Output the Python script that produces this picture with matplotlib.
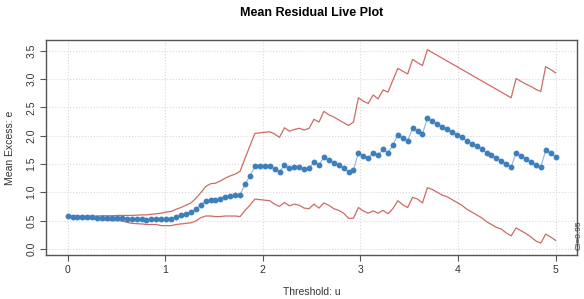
import matplotlib
matplotlib.use("Agg")
import matplotlib.pyplot as plt
import numpy as np

plt.rcParams["font.family"] = ["Liberation Sans", "DejaVu Sans"]

# thresholds: 100 values from 0 to 5
threshold = np.linspace(0, 5, 100)

mean_excess = [
    0.575, 0.565, 0.56, 0.555, 0.555, 0.555, 0.55, 0.55, 0.545, 0.54,
    0.545, 0.54, 0.53, 0.52, 0.52, 0.52, 0.515, 0.52, 0.525, 0.52,
    0.53, 0.535, 0.565, 0.595, 0.62, 0.65, 0.70, 0.78, 0.84, 0.87,
    0.86, 0.88, 0.91, 0.94, 0.95, 0.96, 1.14, 1.29, 1.46, 1.46,
    1.46, 1.46, 1.41, 1.36, 1.48, 1.42, 1.45, 1.45, 1.41, 1.42,
    1.54, 1.48, 1.62, 1.57, 1.52, 1.48, 1.43, 1.36, 1.39, 1.70,
    1.64, 1.61, 1.70, 1.65, 1.76, 1.70, 1.83, 2.02, 1.96, 1.91,
    2.13, 2.09, 2.03, 2.31, 2.26, 2.21, 2.16, 2.12, 2.07, 2.02,
    1.97, 1.91, 1.86, 1.81, 1.76, 1.70, 1.65, 1.60, 1.56, 1.50,
    1.45, 1.69, 1.64, 1.59, 1.54, 1.48, 1.44, 1.74, 1.69, 1.63,
]

upper_ci = [
    0.59, 0.585, 0.58, 0.58, 0.58, 0.58, 0.58, 0.585, 0.585, 0.585,
    0.59, 0.59, 0.59, 0.59, 0.595, 0.60, 0.60, 0.61, 0.62, 0.63,
    0.65, 0.66, 0.70, 0.73, 0.77, 0.81, 0.89, 0.99, 1.10, 1.15,
    1.16, 1.20, 1.25, 1.29, 1.32, 1.37, 1.60, 1.82, 2.04, 2.05,
    2.06, 2.07, 2.03, 1.97, 2.14, 2.08, 2.11, 2.13, 2.10, 2.13,
    2.29, 2.24, 2.43, 2.37, 2.33, 2.28, 2.23, 2.18, 2.24, 2.67,
    2.61, 2.57, 2.72, 2.65, 2.81, 2.77, 2.98, 3.19, 3.14, 3.09,
    3.35, 3.29, 3.24, 3.52, 3.47, 3.42, 3.37, 3.32, 3.27, 3.22,
    3.17, 3.12, 3.07, 3.02, 2.97, 2.92, 2.87, 2.82, 2.77, 2.72,
    2.67, 3.01, 2.96, 2.91, 2.87, 2.82, 2.78, 3.22, 3.17, 3.11,
]

lower_ci = [
    0.56, 0.545, 0.54, 0.53, 0.53, 0.53, 0.52, 0.515, 0.505, 0.495,
    0.50, 0.49, 0.47, 0.45, 0.445, 0.44, 0.43, 0.43, 0.43, 0.41,
    0.41, 0.41, 0.43, 0.44, 0.45, 0.46, 0.49, 0.55, 0.58, 0.58,
    0.57, 0.57, 0.58, 0.58, 0.58, 0.57, 0.68, 0.77, 0.88, 0.87,
    0.86, 0.85, 0.79, 0.75, 0.82, 0.76, 0.79, 0.77, 0.72, 0.71,
    0.79, 0.72, 0.81, 0.77, 0.71, 0.68, 0.63, 0.54, 0.54, 0.73,
    0.67, 0.63, 0.67, 0.63, 0.68, 0.62, 0.71, 0.85, 0.78, 0.73,
    0.91, 0.88, 0.81, 1.08, 1.05, 1.00, 0.95, 0.92, 0.87, 0.82,
    0.77, 0.70, 0.65, 0.60, 0.55, 0.48, 0.43, 0.38, 0.35, 0.28,
    0.23, 0.37, 0.32, 0.27, 0.21, 0.14, 0.10, 0.26, 0.21, 0.15,
]

x_ticks = [0, 1, 2, 3, 4, 5]
y_ticks = [0.0, 0.5, 1.0, 1.5, 2.0, 2.5, 3.0, 3.5]

fig = plt.figure(figsize=(5.84, 2.99), dpi=100)
ax = fig.add_axes([0.079, 0.147, 0.909, 0.719])

ax.grid(True, color="#d9d9d9", linestyle=":", linewidth=0.8)
ax.set_axisbelow(True)

ax.plot(threshold, upper_ci, color="#cd6b68", lw=0.9)
ax.plot(threshold, lower_ci, color="#cd6b68", lw=0.9)
ax.plot(threshold, mean_excess, color="#8db6dc", lw=0.8)
ax.plot(threshold, mean_excess, "o", color="#3d7fbd", ms=3.2, mec="#3d7fbd")

ax.set_xlim(-0.22, 5.22)
ax.set_ylim(-0.11, 3.69)
ax.set_xticks(x_ticks)
ax.set_xticklabels([str(t) for t in x_ticks])
ax.set_yticks(y_ticks)
ax.set_yticklabels([f"{t:.1f}" for t in y_ticks], rotation=90, va="center")

for s in ax.spines.values():
    s.set_color("#555555")
    s.set_linewidth(1.0)
ax.tick_params(axis="both", colors="#555555", labelcolor="#333333",
               labelsize=7.5, length=4, width=0.8)
ax.tick_params(axis="x", pad=3)
ax.tick_params(axis="y", pad=3)

ax.set_xlabel("Threshold: u", fontsize=7.5, color="#333333", labelpad=9)
ax.set_ylabel("Mean Excess: e", fontsize=7.5, color="#333333", labelpad=8)
fig.suptitle("Mean Residual Live Plot", fontsize=9, fontweight="bold",
             x=0.533, y=0.975)

fig.text(0.991, 0.215, "CI=0.95", rotation=90, fontsize=6,
         color="#333333", ha="center", va="center")

fig.savefig("out.png", dpi=100)
